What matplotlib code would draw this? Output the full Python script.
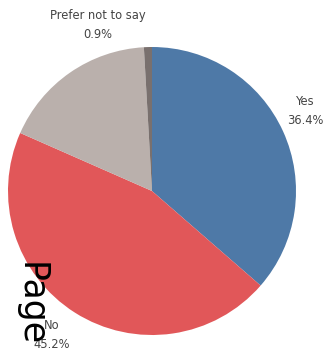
import matplotlib
matplotlib.use("Agg")
import matplotlib.pyplot as plt

categories = ["Yes", "No", "Not sure", "Prefer not to say"]
values = [36.4, 45.2, 17.5, 0.9]
show_label = [True, True, False, True]
colors = ["#4E79A7", "#E15759", "#BAB0AC", "#79706E"]

W, H = 328, 350
fig = plt.figure(figsize=(W / 100, H / 100), dpi=100)
ax = fig.add_axes([0, 0, 1, 1])

cx, cy, r = 152, 350 - 191, 144
ax.pie(values, colors=colors, startangle=90, counterclock=False,
       center=(cx, cy), radius=r, frame=True,
       wedgeprops=dict(linewidth=0))
ax.set_xlim(0, W)
ax.set_ylim(0, H)
ax.set_aspect("equal")
ax.axis("off")

label_pos = {"Yes": (305, 350 - 111), "No": (52, 350 - 335),
             "Prefer not to say": (98, 350 - 25)}
for cat, v, s in zip(categories, values, show_label):
    if not s:
        continue
    x, y = label_pos[cat]
    ax.text(x, y, f"{cat}\n{v:.1f}%", ha="center", va="center",
            fontsize=8.3, color="#444444", linespacing=1.55)

ax.text(31, 350 - 262, "Page", rotation=-90, ha="center", va="top",
        fontsize=25, color="black")

fig.savefig("out.png", dpi=100)
